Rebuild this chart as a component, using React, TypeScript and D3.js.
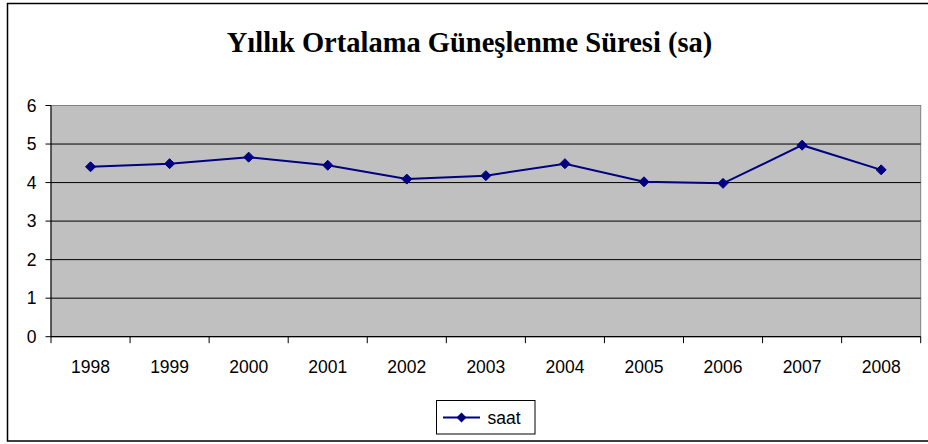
import React from "react";
import * as d3 from "d3";

const years = ["1998", "1999", "2000", "2001", "2002", "2003", "2004", "2005", "2006", "2007", "2008"];
const saat = [4.41, 4.49, 4.66, 4.45, 4.09, 4.18, 4.49, 4.02, 3.98, 4.97, 4.33];
const yTicks = [0, 1, 2, 3, 4, 5, 6];
const title = "Yıllık Ortalama Güneşlenme Süresi (sa)";
const seriesName = "saat";

const W = 928;
const H = 444;
const plot = { left: 51, right: 920.7, top: 105.5, bottom: 336.7 };

export default function App() {
  const x = d3.scaleBand<string>().domain(years).range([plot.left, plot.right]).padding(0);
  const y = d3.scaleLinear().domain([0, 6]).range([plot.bottom, plot.top]);
  const line = d3
    .line<number>()
    .x((_, i) => (x(years[i]) as number) + x.bandwidth() / 2)
    .y((d) => y(d));
  const diamond = (cx: number, cy: number, r: number) =>
    `M${cx},${cy - r}L${cx + r},${cy}L${cx},${cy + r}L${cx - r},${cy}Z`;
  const boundaries = d3.range(years.length + 1).map((i) => plot.left + i * x.bandwidth());

  return (
    <svg
      width={W}
      height={H}
      style={{ position: "absolute", left: 0, top: 0, background: "#fff" }}
      fontFamily="'Liberation Sans', Arial, sans-serif"
    >
      <rect x={7.5} y={3.5} width={940} height={437.5} fill="#fff" stroke="#000" strokeWidth={1.5} />
      <text
        x={469.5}
        y={45}
        textAnchor="middle"
        dominantBaseline="middle"
        fontFamily="'Liberation Serif', 'Times New Roman', serif"
        fontWeight="bold"
        fontSize={28.5}
        fill="#000"
      >
        {title}
      </text>
      <rect
        x={plot.left}
        y={plot.top}
        width={plot.right - plot.left}
        height={plot.bottom - plot.top}
        fill="#C0C0C0"
        stroke="#808080"
        strokeWidth={1}
      />
      {yTicks.slice(1).map((t) => (
        <line key={"g" + t} x1={plot.left} x2={plot.right} y1={y(t)} y2={y(t)} stroke={t === 6 ? "#808080" : "#000"} strokeWidth={1} />
      ))}
      <line x1={plot.left} x2={plot.left} y1={plot.top} y2={plot.bottom} stroke="#000" strokeWidth={1} />
      <line x1={plot.left} x2={plot.right} y1={plot.bottom} y2={plot.bottom} stroke="#000" strokeWidth={1.2} />
      {yTicks.map((t) => (
        <g key={"y" + t}>
          <line x1={plot.left - 5.5} x2={plot.left} y1={y(t)} y2={y(t)} stroke="#000" />
          <text x={36.5} y={y(t)} textAnchor="end" dominantBaseline="central" fontSize={17.5} fill="#000">
            {t}
          </text>
        </g>
      ))}
      {boundaries.map((bx, i) => (
        <line key={"b" + i} x1={bx} x2={bx} y1={plot.bottom} y2={plot.bottom + 6.5} stroke="#000" />
      ))}
      {years.map((yr) => (
        <text
          key={yr}
          x={(x(yr) as number) + x.bandwidth() / 2}
          y={372.5}
          textAnchor="middle"
          fontSize={17.5}
          fill="#000"
        >
          {yr}
        </text>
      ))}
      <path d={line(saat) || ""} fill="none" stroke="#000080" strokeWidth={2} />
      {saat.map((v, i) => (
        <path
          key={"m" + i}
          d={diamond((x(years[i]) as number) + x.bandwidth() / 2, y(v), 5)}
          fill="#000080"
          stroke="#000080"
          strokeWidth={1}
        />
      ))}
      <g>
        <rect x={436.5} y={400.5} width={98.5} height={33.5} fill="#fff" stroke="#000" strokeWidth={1} />
        <line x1={443} x2={480} y1={417.5} y2={417.5} stroke="#000080" strokeWidth={2} />
        <path d={diamond(461.5, 417.5, 5)} fill="#000080" />
        <text x={487.5} y={418} dominantBaseline="central" fontSize={17.5} fill="#000">
          {seriesName}
        </text>
      </g>
    </svg>
  );
}
